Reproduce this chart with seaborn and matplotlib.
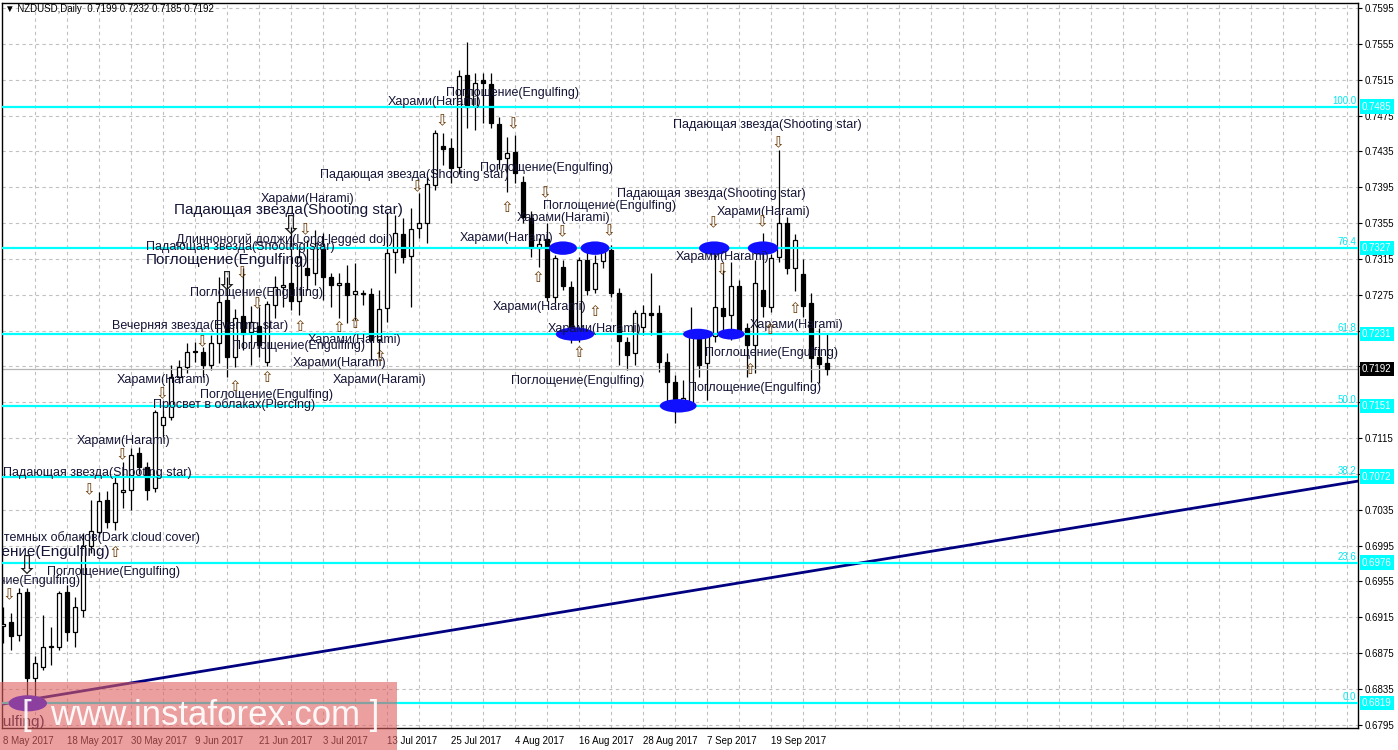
import matplotlib
matplotlib.use("Agg")
import matplotlib.pyplot as plt
import matplotlib.transforms as mtransforms
from matplotlib.patches import Ellipse, Rectangle
import seaborn as sns

# NZDUSD daily candles, 8 May 2017 .. 28 Sep 2017
opens = [0.6905, 0.6910, 0.6895, 0.6943, 0.6847, 0.6860, 0.6882, 0.6882, 0.6943, 0.6899,
         0.6923, 0.6995, 0.7010, 0.7046, 0.7021, 0.7055, 0.7057, 0.7098, 0.7083, 0.7059,
         0.7130, 0.7139, 0.7183, 0.7194, 0.7211, 0.7211, 0.7197, 0.7221, 0.7269, 0.7206,
         0.7251, 0.7233, 0.7240, 0.7200, 0.7264, 0.7284, 0.7288, 0.7268, 0.7305, 0.7299,
         0.7327, 0.7295, 0.7286, 0.7288, 0.7276, 0.7277, 0.7276, 0.7225, 0.7260, 0.7323,
         0.7343, 0.7318, 0.7350, 0.7355, 0.7397, 0.7441, 0.7439, 0.7418, 0.7520, 0.7486,
         0.7515, 0.7510, 0.7466, 0.7428, 0.7434, 0.7401, 0.7361, 0.7327, 0.7337, 0.7272,
         0.7306, 0.7284, 0.7232, 0.7314, 0.7281, 0.7313, 0.7325, 0.7277, 0.7222, 0.7210,
         0.7239, 0.7255, 0.7255, 0.7200, 0.7178, 0.7150, 0.7154, 0.7230, 0.7199, 0.7229,
         0.7260, 0.7252, 0.7285, 0.7238, 0.7219, 0.7280, 0.7261, 0.7317, 0.7355, 0.7305,
         0.7298, 0.7266, 0.7206, 0.7199]
highs = [0.6927, 0.6920, 0.6948, 0.6948, 0.6872, 0.6918, 0.6904, 0.6944, 0.6951, 0.6938,
         0.7009, 0.7046, 0.7055, 0.7056, 0.7073, 0.7088, 0.7104, 0.7105, 0.7088, 0.7146,
         0.7146, 0.7197, 0.7202, 0.7221, 0.7222, 0.7217, 0.7230, 0.7295, 0.7295, 0.7259,
         0.7305, 0.7262, 0.7261, 0.7268, 0.7296, 0.7314, 0.7351, 0.7329, 0.7336, 0.7347,
         0.7344, 0.7299, 0.7299, 0.7308, 0.7310, 0.7280, 0.7283, 0.7280, 0.7367, 0.7364,
         0.7361, 0.7372, 0.7389, 0.7406, 0.7459, 0.7456, 0.7450, 0.7526, 0.7557, 0.7522,
         0.7522, 0.7522, 0.7473, 0.7451, 0.7453, 0.7408, 0.7368, 0.7338, 0.7355, 0.7319,
         0.7314, 0.7290, 0.7317, 0.7323, 0.7319, 0.7333, 0.7331, 0.7283, 0.7228, 0.7258,
         0.7264, 0.7299, 0.7264, 0.7210, 0.7185, 0.7180, 0.7261, 0.7236, 0.7232, 0.7330,
         0.7303, 0.7312, 0.7291, 0.7243, 0.7314, 0.7344, 0.7320, 0.7437, 0.7362, 0.7343,
         0.7315, 0.7277, 0.7238, 0.7232]
lows = [0.6886, 0.6879, 0.6888, 0.6819, 0.6821, 0.6856, 0.6862, 0.6879, 0.6888, 0.6882,
        0.6915, 0.6987, 0.7005, 0.7015, 0.7012, 0.7037, 0.7035, 0.7075, 0.7046, 0.7055,
        0.7116, 0.7135, 0.7177, 0.7188, 0.7200, 0.7183, 0.7191, 0.7199, 0.7183, 0.7194,
        0.7213, 0.7197, 0.7206, 0.7195, 0.7249, 0.7261, 0.7258, 0.7252, 0.7280, 0.7286,
        0.7269, 0.7261, 0.7249, 0.7243, 0.7247, 0.7263, 0.7202, 0.7206, 0.7245, 0.7299,
        0.7310, 0.7261, 0.7338, 0.7333, 0.7392, 0.7420, 0.7400, 0.7410, 0.7461, 0.7459,
        0.7467, 0.7461, 0.7415, 0.7390, 0.7400, 0.7355, 0.7317, 0.7306, 0.7268, 0.7266,
        0.7280, 0.7221, 0.7222, 0.7275, 0.7277, 0.7305, 0.7272, 0.7197, 0.7191, 0.7197,
        0.7230, 0.7230, 0.7189, 0.7146, 0.7132, 0.7145, 0.7150, 0.7183, 0.7158, 0.7222,
        0.7230, 0.7225, 0.7228, 0.7183, 0.7188, 0.7250, 0.7256, 0.7312, 0.7298, 0.7279,
        0.7250, 0.7178, 0.7176, 0.7185]
closes = [0.6908, 0.6894, 0.6942, 0.6847, 0.6864, 0.6882, 0.6883, 0.6942, 0.6899, 0.6927,
          0.6994, 0.7011, 0.7045, 0.7021, 0.7065, 0.7057, 0.7096, 0.7083, 0.7057, 0.7144,
          0.7139, 0.7183, 0.7194, 0.7211, 0.7212, 0.7197, 0.7221, 0.7267, 0.7206, 0.7249,
          0.7231, 0.7245, 0.7219, 0.7265, 0.7284, 0.7286, 0.7268, 0.7317, 0.7297, 0.7327,
          0.7295, 0.7286, 0.7288, 0.7275, 0.7279, 0.7276, 0.7225, 0.7259, 0.7322, 0.7344,
          0.7317, 0.7348, 0.7355, 0.7399, 0.7456, 0.7438, 0.7416, 0.7519, 0.7485, 0.7511,
          0.7511, 0.7467, 0.7427, 0.7433, 0.7411, 0.7362, 0.7327, 0.7332, 0.7272, 0.7316,
          0.7285, 0.7228, 0.7314, 0.7280, 0.7310, 0.7323, 0.7277, 0.7223, 0.7208, 0.7255,
          0.7255, 0.7252, 0.7200, 0.7178, 0.7155, 0.7160, 0.7232, 0.7197, 0.7229, 0.7261,
          0.7251, 0.7285, 0.7232, 0.7219, 0.7288, 0.7262, 0.7316, 0.7355, 0.7305, 0.7336,
          0.7262, 0.7204, 0.7198, 0.7192]

date_ticks = [0, 8, 16, 24, 32, 40, 48, 56, 64, 72, 80, 88, 96]
date_labels = ["8 May 2017", "18 May 2017", "30 May 2017", "9 Jun 2017", "21 Jun 2017",
               "3 Jul 2017", "13 Jul 2017", "25 Jul 2017", "4 Aug 2017", "16 Aug 2017",
               "28 Aug 2017", "7 Sep 2017", "19 Sep 2017"]
price_ticks = [0.7595, 0.7555, 0.7515, 0.7475, 0.7435, 0.7395, 0.7355, 0.7315, 0.7275,
               0.7235, 0.7195, 0.7155, 0.7115, 0.7075, 0.7035, 0.6995, 0.6955, 0.6915,
               0.6875, 0.6835, 0.6795]
hidden_ticks = [0.7235, 0.7195, 0.7155, 0.7075]  # sit under the level boxes

fib_pct = ["100.0", "76.4", "61.8", "50.0", "38.2", "23.6", "0.0"]
fib_price = [0.7485, 0.7327, 0.7231, 0.7151, 0.7072, 0.6976, 0.6819]
bid = 0.7192

# trend line through the May low
trend_x = [-0.125, 169.375]
trend_y = [0.6818, 0.7067]

# pattern labels: bar, price, text, align, big
labels = [
    (48.1, 0.7490, "Харами(Harami)", "left", False),
    (55.4, 0.7500, "Поглощение(Engulfing)", "left", False),
    (83.75, 0.7464, "Падающая звезда(Shooting star)", "left", False),
    (59.6, 0.7416, "Поглощение(Engulfing)", "left", False),
    (39.6, 0.7409, "Падающая звезда(Shooting star)", "left", False),
    (32.25, 0.7382, "Харами(Harami)", "left", False),
    (21.4, 0.7370, "Падающая звезда(Shooting star)", "left", True),
    (67.5, 0.7374, "Поглощение(Engulfing)", "left", False),
    (64.25, 0.7361, "Харами(Harami)", "left", False),
    (76.75, 0.7387, "Падающая звезда(Shooting star)", "left", False),
    (89.25, 0.7367, "Харами(Harami)", "left", False),
    (57.1, 0.7338, "Харами(Harami)", "left", False),
    (21.6, 0.7336, "Длинноногий доджи(Long-legged doji)", "left", False),
    (17.9, 0.7328, "Падающая звезда(Shooting star)", "left", False),
    (17.9, 0.7314, "Поглощение(Engulfing)", "left", True),
    (84.1, 0.7317, "Харами(Harami)", "left", False),
    (23.4, 0.7277, "Поглощение(Engulfing)", "left", False),
    (61.25, 0.7261, "Харами(Harami)", "left", False),
    (68.1, 0.7237, "Харами(Harami)", "left", False),
    (93.4, 0.7241, "Харами(Harami)", "left", False),
    (13.6, 0.7240, "Вечерняя звезда(Evening star)", "left", False),
    (28.6, 0.7218, "Поглощение(Engulfing)", "left", False),
    (38.1, 0.7224, "Харами(Harami)", "left", False),
    (36.25, 0.7199, "Харами(Harami)", "left", False),
    (87.75, 0.7210, "Поглощение(Engulfing)", "left", False),
    (14.25, 0.7180, "Харами(Harami)", "left", False),
    (41.25, 0.7180, "Харами(Harami)", "left", False),
    (63.5, 0.7179, "Поглощение(Engulfing)", "left", False),
    (85.6, 0.7171, "Поглощение(Engulfing)", "left", False),
    (24.6, 0.7163, "Поглощение(Engulfing)", "left", False),
    (18.75, 0.7152, "Просвет в облаках(Piercing)", "left", False),
    (9.25, 0.7112, "Харами(Harami)", "left", False),
    (23.6, 0.7076, "Падающая звезда(Shooting star)", "right", False),
    (24.6, 0.70035, "Завеса из темных облаков(Dark cloud cover)", "right", False),
    (13.4, 0.6988, "Поглощение(Engulfing)", "right", True),
    (9.6, 0.6955, "Поглощение(Engulfing)", "right", False),
    (5.5, 0.6966, "Поглощение(Engulfing)", "left", False),
    (5.25, 0.6798, "Поглощение(Engulfing)", "right", True),
]
down_arrows = [(54.9, 0.7469), (63.75, 0.7466), (67.75, 0.7389), (69.9, 0.7345),
               (75.75, 0.7346), (88.75, 0.7355), (94.9, 0.7356), (96.9, 0.7445),
               (89.9, 0.7303), (51.75, 0.7395), (37.75, 0.7347), (29.9, 0.7300),
               (31.75, 0.7265), (24.9, 0.7222), (19.9, 0.7165), (14.9, 0.7096),
               (10.75, 0.7057), (0.75, 0.6940)]
big_down_arrows = [(35.9, 0.7351), (28.0, 0.7288), (3.0, 0.6971)]
up_arrows = [(63.0, 0.7372), (66.9, 0.7294), (74.0, 0.7256), (72.0, 0.7210),
             (37.1, 0.7239), (42.0, 0.7238), (44.0, 0.7243), (33.0, 0.7183),
             (29.0, 0.7173), (47.1, 0.7206), (14.0, 0.6987), (99.0, 0.7260),
             (95.9, 0.7236), (93.4, 0.7191)]
# blue marks on the levels: bar, price, width (bars), height (price)
marks = [(3.1, 0.6819, 4.8, 0.0018), (70.0, 0.7327, 3.5, 0.0015), (74.0, 0.7327, 3.6, 0.0015),
         (71.5, 0.7231, 4.8, 0.0015), (88.9, 0.7327, 3.8, 0.0015), (95.0, 0.7327, 3.8, 0.0015),
         (86.9, 0.7231, 3.8, 0.0012), (91.0, 0.7231, 3.4, 0.0012), (84.4, 0.7151, 4.6, 0.0015)]

sns.set_style("white")
plt.rcParams['font.family'] = ['Liberation Sans', 'DejaVu Sans']

fig = plt.figure(figsize=(13.98, 7.5), dpi=100)
ax = fig.add_axes([2 / 1398, 22 / 750, 1356 / 1398, 725 / 750])
ax.set_xlim(-0.125, 169.375)
ax.set_ylim(0.679143, 0.760058)

# dashed grid
for p in price_ticks:
    ax.axhline(p, color='#c0c0c0', lw=0.8, ls=(0, (3, 3)), zorder=1)
for b in range(4, 170, 4):
    ax.axvline(b, color='#c0c0c0', lw=0.8, ls=(0, (3, 3)), zorder=1)

# candles
for i in range(len(opens)):
    o, h, l, c = opens[i], highs[i], lows[i], closes[i]
    ax.vlines(i, l, h, color='black', lw=0.9, zorder=2)
    face = 'white' if c >= o else 'black'
    ax.bar(i, max(abs(c - o), 0.00002), bottom=min(o, c), width=0.62,
           color=face, edgecolor='black', lw=0.9, zorder=3)

ax.axhline(bid, color='#b4b4b4', lw=0.9, zorder=2)

sns.lineplot(x=trend_x, y=trend_y, ax=ax, color='#000080', lw=2, zorder=4)

trans = mtransforms.blended_transform_factory(ax.transAxes, ax.transData)
for pct, p in zip(fib_pct, fib_price):
    ax.axhline(p, color='#00ffff', lw=1.6, zorder=4)
    ax.text(1 - 2 / 1356, p + 0.0001, pct, transform=trans, ha='right', va='bottom',
            color='#00e8f0', fontsize=7, zorder=6)
    ax.text(1 + 4 / 1356, p, f"{p:.4f}", transform=trans, ha='left', va='center',
            color='white', fontsize=7, zorder=10, clip_on=False,
            bbox=dict(boxstyle='square,pad=0.22', fc='#00ffff', ec='none'))
ax.text(1 + 4 / 1356, bid, f"{bid:.4f}", transform=trans, ha='left', va='center',
        color='white', fontsize=7, zorder=10, clip_on=False,
        bbox=dict(boxstyle='square,pad=0.22', fc='black', ec='none'))

for bx, by, bw, bh in marks:
    ax.add_patch(Ellipse((bx, by), bw, bh, facecolor='#1010ff', edgecolor='none', zorder=5))

for x, y, txt, ha, big in labels:
    ax.text(x, y, txt, ha=ha, va='center', fontsize=11 if big else 9,
            color='#141436', zorder=7, clip_on=True)
for x, y in down_arrows:
    ax.text(x, y, "⇩", ha='center', va='center', fontsize=11, family='DejaVu Sans',
            color='#6b3c08', zorder=7, clip_on=True)
for x, y in big_down_arrows:
    ax.text(x, y, "⇩", ha='center', va='center', fontsize=19, family='DejaVu Sans',
            color='#202020', zorder=7, clip_on=True)
for x, y in up_arrows:
    ax.text(x, y, "⇧", ha='center', va='center', fontsize=11, family='DejaVu Sans',
            color='#6b3c08', zorder=7, clip_on=True)

ax.text(3 / 1356, 1 - 6 / 725, "▼ NZDUSD,Daily  0.7199 0.7232 0.7185 0.7192",
        transform=ax.transAxes, ha='left', va='center', fontsize=7, color='black', zorder=8)

ax.yaxis.tick_right()
ax.set_yticks(price_ticks)
ax.set_yticklabels(["" if p in hidden_ticks else f"{p:.4f}" for p in price_ticks])
ax.set_xticks(date_ticks)
ax.set_xticklabels(date_labels, ha='left')
ax.tick_params(axis='y', length=3, width=0.8, pad=2, labelsize=7, colors='black')
ax.tick_params(axis='x', length=4, width=0.8, pad=2, labelsize=7, colors='black')
for s in ax.spines.values():
    s.set_color('black')
    s.set_linewidth(1)

# watermark
fig.add_artist(Rectangle((0, 0), 397 / 1398, 68 / 750, transform=fig.transFigure,
                         facecolor='#e06060', alpha=0.6, edgecolor='none', zorder=20))
fig.text(22 / 1398, 1 - 716 / 750, "[  www.instaforex.com ]", ha='left', va='center',
         color='white', alpha=0.92, fontsize=25, zorder=21)

fig.savefig("out.png", dpi=100)
